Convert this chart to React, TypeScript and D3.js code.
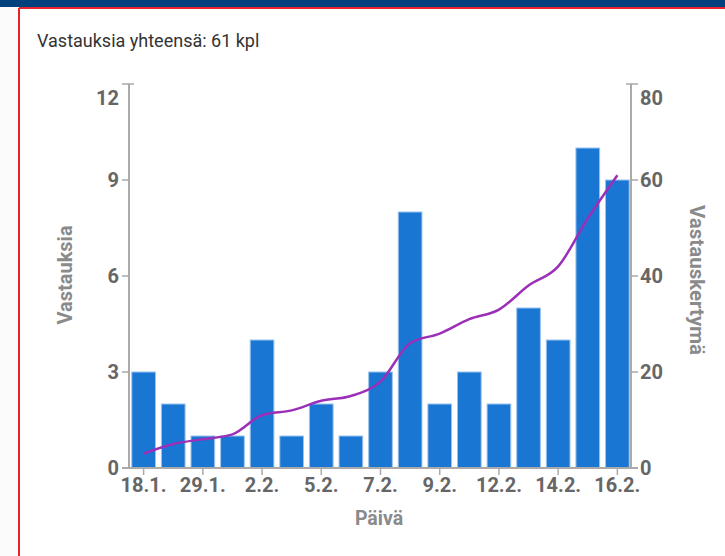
import React from "react";
import * as d3 from "d3";

const days = ["18.1.", "22.1.", "29.1.", "1.2.", "2.2.", "3.2.", "5.2.", "6.2.", "7.2.", "8.2.", "9.2.", "10.2.", "12.2.", "13.2.", "14.2.", "15.2.", "16.2."];
const counts = [3, 2, 1, 1, 4, 1, 2, 1, 3, 8, 2, 3, 2, 5, 4, 10, 9];
const labeledDays = ["18.1.", "29.1.", "2.2.", "5.2.", "7.2.", "9.2.", "12.2.", "14.2.", "16.2."];
const leftTicks = [0, 3, 6, 9, 12];
const rightTicks = [0, 20, 40, 60, 80];
const title = "Vastauksia yhteensä: 61 kpl";

const W = 725;
const H = 556;
const FONT = "Roboto, 'Noto Sans', sans-serif";
const AX = "#aaaaaa";
const TXT = "#666666";
const TITLE = "#8a8a8a";

export default function App() {
  const cumulative: number[] = [];
  counts.reduce((acc, v) => {
    const s = acc + v;
    cumulative.push(s);
    return s;
  }, 0);

  const x = d3.scaleBand<string>().domain(days).range([130, 631]).paddingInner(0.2).paddingOuter(0.06);
  const yL = d3.scaleLinear().domain([0, 12]).range([468, 84]);
  const yR = d3.scaleLinear().domain([0, 80]).range([468, 84]);
  const line = d3
    .line<number>()
    .x((_, i) => (x(days[i]) as number) + x.bandwidth() / 2)
    .y((d) => yR(d))
    .curve(d3.curveMonotoneX);

  const top = yL.range()[1];
  const bottom = yL.range()[0];
  const left = x.range()[0] - 1;
  const right = x.range()[1];

  return (
    <svg width={W} height={H} style={{ position: "absolute", left: 0, top: 0, background: "#fff" }}>
      <rect x={0} y={0} width={W} height={H} fill="#fbfbfc" />
      <rect x={19} y={8} width={W} height={H} fill="#ffffff" />
      <rect x={0} y={0} width={W} height={7} fill="#00407c" />
      <line x1={19} y1={8} x2={W} y2={8} stroke="#e8232a" strokeWidth={2} />
      <line x1={19} y1={8} x2={19} y2={H} stroke="#e8232a" strokeWidth={2} />
      <text x={37} y={47} fontFamily={FONT} fontSize={18} fontWeight={400} fill="#333">
        {title}
      </text>

      {counts.map((c, i) => (
        <rect
          key={days[i]}
          x={x(days[i])}
          y={yL(c)}
          width={x.bandwidth()}
          height={bottom - yL(c)}
          fill="#1976d2"
          stroke="#9cc3ee"
          strokeWidth={1}
        />
      ))}

      <path d={line(cumulative) || ""} fill="none" stroke="#9c2fb8" strokeWidth={2.5} />

      {/* left axis */}
      <line x1={left} y1={top} x2={left} y2={bottom} stroke={AX} strokeWidth={2} />
      <line x1={left} y1={top} x2={left + 5} y2={top} stroke={AX} strokeWidth={1.5} />
      {leftTicks.map((t) => (
        <g key={"l" + t}>
          <line x1={left - 7} y1={yL(t)} x2={left} y2={yL(t)} stroke={AX} strokeWidth={1.5} />
          <text
            x={left - 10}
            y={t === 12 ? yL(t) + 14 : yL(t)}
            dy="0.35em"
            textAnchor="end"
            fontFamily={FONT}
            fontSize={20}
            fontWeight={700}
            fill={TXT}
          >
            {t}
          </text>
        </g>
      ))}

      {/* right axis */}
      <line x1={right} y1={top} x2={right} y2={bottom} stroke={AX} strokeWidth={2} />
      <line x1={right - 5} y1={top} x2={right} y2={top} stroke={AX} strokeWidth={1.5} />
      {rightTicks.map((t) => (
        <g key={"r" + t}>
          <line x1={right} y1={yR(t)} x2={right + 7} y2={yR(t)} stroke={AX} strokeWidth={1.5} />
          <text
            x={right + 9}
            y={t === 80 ? yR(t) + 14 : yR(t)}
            dy="0.35em"
            textAnchor="start"
            fontFamily={FONT}
            fontSize={20}
            fontWeight={700}
            fill={TXT}
          >
            {t}
          </text>
        </g>
      ))}

      {/* bottom axis */}
      <line x1={left - 7} y1={bottom} x2={right + 7} y2={bottom} stroke={AX} strokeWidth={2} />
      {labeledDays.map((d) => {
        const cx = (x(d) as number) + x.bandwidth() / 2;
        return (
          <g key={"b" + d}>
            <line x1={cx} y1={bottom} x2={cx} y2={bottom + 7} stroke={AX} strokeWidth={1.5} />
            <text x={cx} y={bottom + 24} textAnchor="middle" fontFamily={FONT} fontSize={20} fontWeight={700} fill={TXT}>
              {d}
            </text>
          </g>
        );
      })}

      <text x={379} y={525} textAnchor="middle" fontFamily={FONT} fontSize={19.5} fontWeight={700} fill={TITLE}>
        Päivä
      </text>
      <text
        transform="translate(72,275) rotate(-90)"
        textAnchor="middle"
        fontFamily={FONT}
        fontSize={20}
        fontWeight={700}
        fill={TITLE}
      >
        Vastauksia
      </text>
      <text
        transform="translate(690,280) rotate(90)"
        textAnchor="middle"
        fontFamily={FONT}
        fontSize={20.5}
        fontWeight={700}
        fill={TITLE}
      >
        Vastauskertymä
      </text>
    </svg>
  );
}
